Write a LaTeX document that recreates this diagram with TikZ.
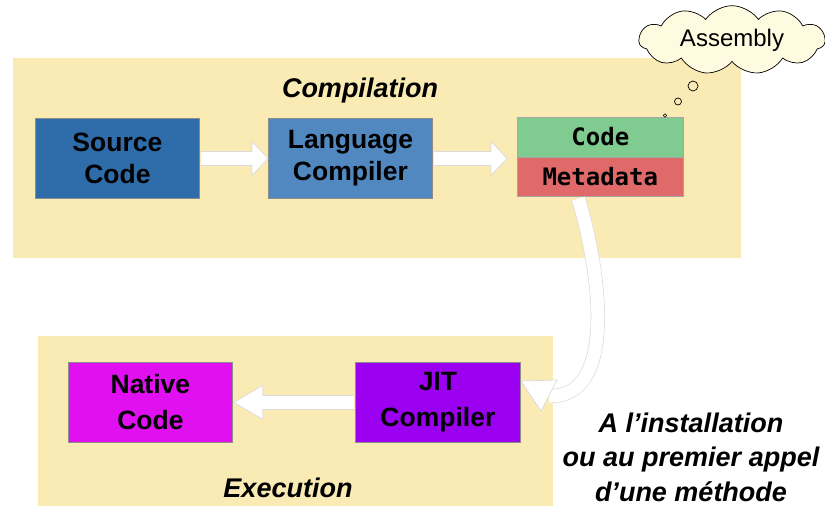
\documentclass[tikz,border=0pt]{standalone}
\usepackage{fontspec}
\setmainfont{Liberation Sans}
\setmonofont{DejaVu Sans Mono}
\usetikzlibrary{shapes.symbols,calc}
\definecolor{panel}{RGB}{250,234,180}
\definecolor{srcblue}{RGB}{46,109,170}
\definecolor{langblue}{RGB}{82,136,192}
\definecolor{codegreen}{RGB}{128,204,144}
\definecolor{metared}{RGB}{224,106,106}
\definecolor{nativemag}{RGB}{224,16,240}
\definecolor{jitpurple}{RGB}{155,0,240}
\definecolor{cloudfill}{RGB}{255,251,224}
\tikzset{
  panelbox/.style={fill=panel, draw=none},
  box/.style={draw=black!45, line width=0.8pt, anchor=north west, minimum width=164pt, minimum height=80pt,
    inner sep=0pt, align=center, font=\fontsize{26.5}{32}\selectfont\bfseries},
  boxlow/.style={box, font=\fontsize{26.5}{36}\selectfont\bfseries},
  monobox/.style={draw=black!35, line width=0.6pt, anchor=north west, minimum width=166pt, minimum height=39.5pt,
    inner sep=0pt, font=\fontsize{24}{26}\selectfont\ttfamily\bfseries},
  title/.style={font=\fontsize{27}{32}\selectfont\bfseries\itshape},
  fatbody/.style={draw=black!14, line width=0.7pt, double=white, double distance=13pt},
  fathead/.style={fill=white, draw=black!14, line width=0.7pt, line join=round},
}
\begin{document}
\begin{tikzpicture}[x=1pt,y=-1pt]
\useasboundingbox (0,0) rectangle (825,506);
% panels
\fill[panelbox] (13,58) rectangle (741,258);
\fill[panelbox] (38,336) rectangle (553,506);
\node[title] (comp) at (360,91) {Compilation};
\node[title] (exec) at (288,488) {Execution};
% boxes
\node[box, fill=srcblue] (src) at (35,118) {Source\\Code};
\node[box, fill=langblue] (lang) at (268,118) {Language\\Compiler};
\node[monobox, fill=codegreen] (code) at (517,117) {Code};
\node[monobox, fill=metared] (meta) at (517,156.5) {Metadata};
\node[boxlow, fill=nativemag] (native) at (68,362) {Native\\Code};
\node[boxlow, fill=jitpurple, minimum width=165pt] (jit) at (355,362) {JIT\\Compiler};
% arrows compilation
\draw[fatbody] ($(src.east)+(1,0)$) -- ($(lang.west)+(-16,0)$);
\draw[fathead] ($(lang.west)+(-16,-17)$) -- (lang.west) -- ($(lang.west)+(-16,17)$) -- cycle;
\fill[white] ($(lang.west)+(-17,-6.2)$) rectangle ($(lang.west)+(-15,6.2)$);
\coordinate (tipc) at ($(code.west |- lang.west)+(-10,0)$);
\draw[fatbody] ($(lang.east)+(1,0)$) -- ($(tipc)+(-16,0)$);
\draw[fathead] ($(tipc)+(-16,-17)$) -- (tipc) -- ($(tipc)+(-16,17)$) -- cycle;
\fill[white] ($(tipc)+(-17,-6.2)$) rectangle ($(tipc)+(-15,6.2)$);
% arrow execution
\draw[fatbody] ($(jit.west)+(-1,0)$) -- ($(native.east)+(30,0)$);
\draw[fathead] ($(native.east)+(30,-17)$) -- ($(native.east)+(1,0)$) -- ($(native.east)+(30,17)$) -- cycle;
\fill[white] ($(native.east)+(29,-6.2)$) rectangle ($(native.east)+(31,6.2)$);
% curved arrow
\coordinate (cstart) at ($(meta.south)+(-22,2)$);
\coordinate (hbase) at (549,396);
\draw[fatbody] (cstart) .. controls (600,270) and (618,398) .. (hbase);
\draw[fathead] (557,380) -- (521,381) -- (541,411) -- cycle;
% cloud
\node[cloud, cloud puffs=11, cloud puff arc=110, aspect=3.0, draw=black, line width=0.7pt,
  fill=cloudfill, minimum width=186pt, minimum height=64pt, inner sep=0pt,
  font=\fontsize{24}{28}\selectfont] (asm) at (732,40) {Assembly};
\draw[line width=0.7pt] (693,86) circle (5);
\draw[line width=0.7pt] (678,101.5) circle (3.5);
\draw[line width=0.6pt] (665,115.5) circle (1.8);
% note
\node[title, align=center, font=\fontsize{27}{34.5}\selectfont\bfseries\itshape] (note) at (691,457)
  {A l’installation\\ou au premier appel\\d’une méthode};
\end{tikzpicture}
\end{document}
